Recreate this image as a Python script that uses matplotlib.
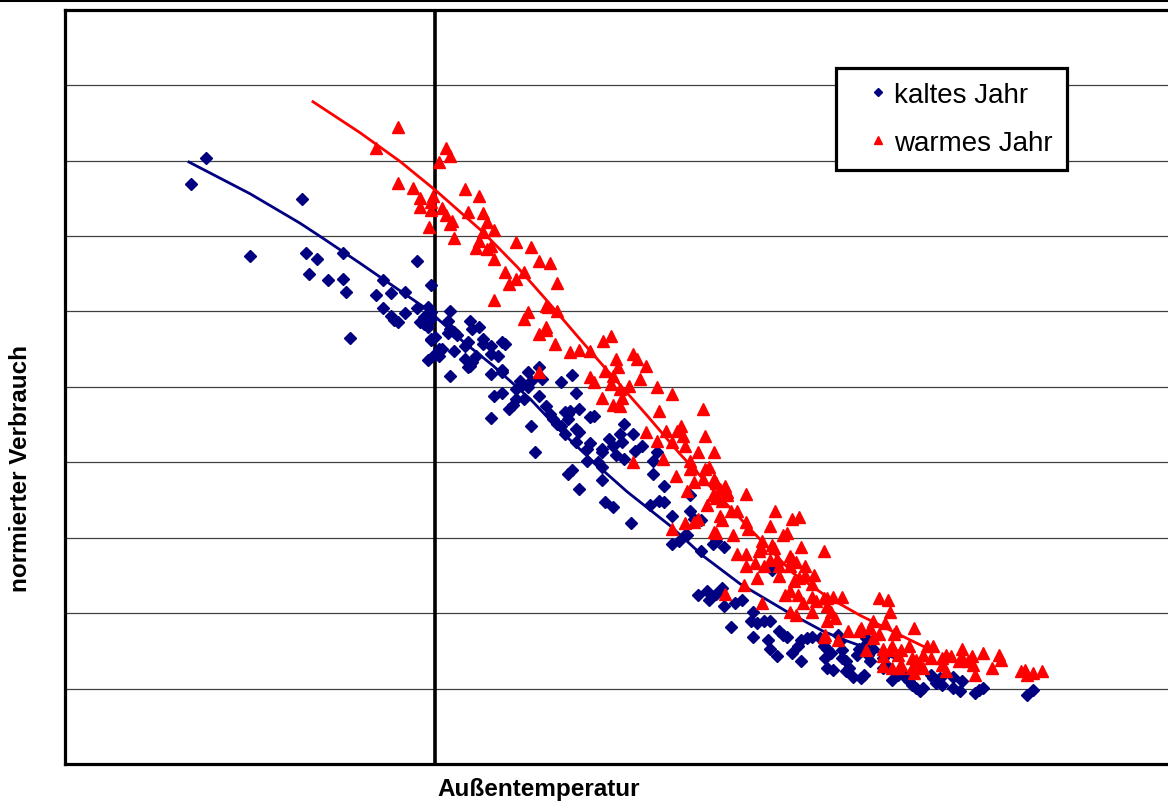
import matplotlib
matplotlib.use("Agg")
import matplotlib.pyplot as plt
from matplotlib.lines import Line2D

plt.rcParams['font.family'] = ['Liberation Sans', 'DejaVu Sans']

# kaltes Jahr: Außentemperatur [°C] / normierter Verbrauch
kalt_temp = [
    -6.2, -6.6, -3.6, -5.0, -3.5, -3.2, -2.5, -3.4, -2.9, -2.5, -2.4, -0.5, -2.3, -1.4, -1.6, -1.2,
    -0.8, -0.1, -1.4, -1.2, -1.1, -1.0, -0.8, -0.5, -0.2, -0.4, -0.3, -0.2, -0.1, -0.1, 0.0, -0.2,
    0.0, 0.2, 0.1, 0.4, 0.35, 0.4, 0.35, 0.6, 0.5, 0.9, 0.95, 1.0, 0.8, 0.95, 0.4, -0.3,
    -0.1, 0.5, -0.1, 0.1, 1.2, 0.8, 1.1, 1.0, 0.9, 1.3, 1.3, 1.5, 1.5, 1.7, 1.8, 1.9,
    1.5, 1.8, 1.8, 2.3, 2.35, 2.5, 2.6, 2.5, 2.2, 2.8, 2.9, 3.4, 3.7, 1.6, 1.8, 2.1,
    2.0, 2.2, 2.4, 2.8, 1.5, 2.6, 2.7, 3.0, 3.1, 3.2, 3.3, 3.5, 3.6, 3.65, 3.6, 3.8,
    3.9, 3.4, 3.5, 3.8, 3.9, 3.8, 4.2, 4.3, 4.1, 4.2, 4.5, 4.5, 4.1, 4.4, 4.5, 3.6,
    3.7, 3.9, 4.5, 4.6, 4.8, 4.7, 4.8, 5.0, 5.05, 5.1, 5.35, 5.4, 4.9, 5.1, 5.6, 5.9,
    6.0, 5.9, 6.2, 6.05, 6.2, 6.4, 5.8, 5.3, 6.9, 6.9, 7.0, 7.2, 6.8, 6.4, 6.6, 6.75,
    7.5, 7.6, 7.8, 7.2, 7.1, 7.35, 7.4, 7.6, 7.75, 7.8, 8.1, 8.3, 9.1, 8.0, 8.6, 8.55,
    8.7, 8.9, 9.05, 8.6, 9.0, 9.05, 9.25, 9.3, 9.4, 9.5, 9.65, 9.9, 9.8, 9.9, 10.05, 10.2,
    10.6, 10.75, 11.1, 11.3, 11.5, 11.6, 12.35, 12.5, 10.4, 10.5, 10.6, 10.7, 10.55, 10.9, 10.95, 11.0,
    11.0, 11.1, 11.2, 11.4, 11.45, 11.6, 11.65, 11.7, 11.75, 11.85, 12.1, 12.2, 12.1, 12.55, 12.7, 12.8,
    12.9, 13.0, 13.1, 13.2, 13.4, 13.45, 13.55, 13.7, 13.65, 14.0, 14.0, 14.2, 14.25, 14.6, 14.7, 14.8,
    16.0, 16.15,
]
kalt_verbrauch = [
    8.04, 7.69, 7.49, 6.73, 6.77, 6.69, 6.77, 6.49, 6.42, 6.43, 6.26, 6.67, 5.65, 6.42, 6.22, 6.24,
    6.26, 6.35, 6.05, 5.94, 5.89, 5.86, 5.98, 6.05, 6.06, 5.86, 5.83, 5.79, 5.90, 5.62, 5.66, 5.36,
    5.44, 5.50, 5.41, 6.01, 5.87, 5.77, 5.71, 5.69, 5.48, 5.60, 5.87, 5.77, 5.37, 5.28, 5.15, 5.93,
    5.99, 5.73, 5.63, 5.50, 5.79, 5.54, 5.41, 5.33, 5.26, 5.63, 5.57, 5.54, 5.44, 5.41, 5.60, 5.57,
    5.17, 5.22, 5.20, 5.08, 5.03, 5.20, 5.08, 5.00, 4.97, 5.26, 5.11, 5.07, 5.16, 4.88, 4.92, 4.76,
    4.71, 4.84, 4.84, 4.88, 4.59, 4.48, 4.14, 4.75, 4.64, 4.58, 4.51, 4.67, 4.64, 4.68, 4.58, 4.92,
    4.71, 4.48, 4.38, 4.44, 4.40, 4.27, 4.60, 4.62, 4.18, 4.25, 4.18, 4.14, 4.02, 4.01, 3.94, 3.85,
    3.90, 3.65, 3.76, 3.48, 3.41, 4.31, 4.22, 4.38, 4.27, 4.51, 4.38, 4.15, 4.09, 4.05, 4.21, 4.02,
    4.14, 3.84, 3.69, 3.49, 3.47, 3.29, 3.44, 3.19, 3.56, 3.35, 3.25, 3.23, 3.03, 2.92, 2.95, 3.03,
    2.92, 2.95, 2.88, 2.83, 2.24, 2.30, 2.17, 2.26, 2.33, 2.10, 2.13, 2.17, 2.57, 1.81, 2.02, 1.89,
    1.87, 1.89, 1.90, 1.69, 1.64, 1.53, 1.43, 1.76, 1.71, 1.69, 1.47, 1.36, 1.56, 1.64, 1.67, 1.69,
    1.27, 1.24, 1.23, 1.16, 1.14, 1.18, 1.11, 1.18, 1.67, 1.57, 1.53, 1.47, 1.40, 1.71, 1.63, 1.51,
    1.40, 1.36, 1.27, 1.44, 1.53, 1.56, 1.67, 1.44, 1.36, 1.53, 1.40, 1.31, 1.27, 1.20, 1.16, 1.10,
    1.05, 1.01, 0.97, 1.01, 1.18, 1.14, 1.07, 1.05, 1.14, 1.16, 1.01, 0.97, 1.10, 0.94, 0.98, 1.01,
    0.91, 0.98,
]

# warmes Jahr
warm_temp = [
    -1.0, -1.6, 0.3, 0.4, 0.1, -1.0, -0.6, -0.4, -0.4, -0.05, -0.1, -0.1, -0.15, 0.2, 0.3, 0.4,
    0.45, 0.5, 0.8, 1.2, 0.9, 1.3, 1.4, 1.3, 1.6, 1.2, 1.1, 1.4, 1.5, 1.6, 1.9, 2.2,
    2.0, 2.2, 2.4, 1.6, 2.6, 2.8, 3.1, 3.3, 3.0, 3.3, 2.5, 2.4, 3.0, 3.05, 2.8, 3.0,
    3.25, 3.65, 3.9, 4.2, 4.55, 4.75, 2.8, 4.2, 4.3, 4.6, 4.8, 4.9, 4.95, 4.75, 5.0, 4.5,
    4.8, 5.0, 5.05, 5.35, 5.45, 5.7, 5.55, 5.25, 6.0, 6.4, 6.05, 7.25, 5.7, 6.0, 6.25, 6.4,
    6.55, 6.65, 6.7, 6.75, 7.3, 5.35, 6.15, 6.5, 6.9, 6.95, 7.1, 7.3, 7.4, 7.55, 6.4, 6.8,
    7.0, 7.25, 7.55, 7.6, 7.7, 7.85, 7.9, 7.9, 7.6, 7.35, 7.75, 8.4, 8.0, 8.15, 7.7, 7.75,
    9.2, 9.65, 9.05, 9.4, 9.85, 7.0, 7.1, 6.75, 7.55, 8.05, 8.4, 8.45, 8.85, 8.8, 9.15, 8.15,
    8.4, 9.6, 6.9, 7.5, 9.5, 7.6, 9.1, 8.75, 9.9, 10.5, 8.65, 8.4, 8.9, 9.05, 9.25, 9.3,
    9.65, 9.75, 9.6, 10.0, 10.25, 10.2, 10.0, 9.85, 9.7, 9.6, 9.45, 9.8, 9.95, 10.2, 10.3, 10.6,
    10.75, 11.0, 8.7, 9.3, 8.35, 7.85, 8.85, 9.6, 9.75, 10.2, 10.6, 10.7, 10.6, 10.8, 10.55, 10.9,
    11.15, 11.45, 11.65, 11.75, 12.0, 12.25, 12.0, 12.3, 12.4, 12.3, 12.1, 12.1, 12.35, 12.5, 12.55, 10.5,
    10.5, 11.5, 11.85, 12.15, 12.45, 12.95, 11.85, 12.1, 12.35, 12.6, 12.8, 12.6, 12.9, 13.0, 13.1, 13.2,
    13.4, 13.3, 13.45, 12.9, 12.95, 13.2, 13.7, 13.7, 13.8, 13.95, 14.15, 14.25, 14.25, 14.4, 14.5, 14.55,
    14.6, 14.8, 15.05, 15.25, 15.3, 13.8, 15.85, 15.95, 16.0, 16.15, 16.4,
]
warm_verbrauch = [
    8.45, 8.16, 8.17, 8.06, 7.98, 7.70, 7.63, 7.51, 7.39, 7.53, 7.45, 7.34, 7.12, 7.37, 7.28, 7.16,
    7.20, 6.97, 7.62, 7.53, 7.32, 7.30, 7.18, 7.05, 7.08, 6.93, 6.84, 6.83, 6.87, 6.69, 6.52, 6.92,
    6.36, 6.43, 6.52, 6.15, 6.85, 6.67, 6.64, 6.38, 6.07, 6.01, 5.99, 5.90, 5.79, 6.06, 5.70, 5.75,
    5.57, 5.46, 5.49, 5.48, 5.61, 5.67, 5.20, 5.13, 5.07, 5.21, 5.15, 5.37, 5.26, 5.04, 4.97, 4.85,
    4.76, 4.75, 4.85, 5.44, 5.37, 5.28, 5.11, 5.01, 5.00, 4.91, 4.68, 4.70, 4.40, 4.28, 4.42, 4.27,
    4.42, 4.48, 4.35, 4.22, 4.35, 4.01, 4.05, 3.82, 4.02, 3.94, 4.13, 3.91, 3.94, 4.13, 3.12, 3.62,
    3.74, 3.78, 3.78, 3.72, 3.65, 3.68, 3.61, 3.56, 3.52, 3.43, 3.49, 3.58, 3.36, 3.35, 3.29, 3.23,
    3.35, 3.25, 3.15, 3.03, 3.28, 3.21, 3.25, 3.19, 3.08, 3.03, 3.21, 3.12, 2.95, 2.86, 2.86, 2.79,
    2.79, 2.76, 3.91, 3.56, 3.06, 3.06, 2.90, 2.83, 2.88, 2.82, 2.66, 2.62, 2.62, 2.70, 2.72, 2.62,
    2.72, 2.68, 2.63, 2.63, 2.50, 2.39, 2.50, 2.46, 2.42, 2.29, 2.24, 2.24, 2.13, 2.22, 2.16, 2.20,
    2.22, 2.21, 2.47, 2.49, 2.37, 2.25, 2.13, 2.02, 1.97, 2.02, 2.10, 2.02, 1.90, 1.93, 1.71, 1.64,
    1.76, 1.77, 1.51, 1.80, 2.20, 2.17, 1.73, 2.02, 1.73, 1.51, 1.43, 1.30, 1.27, 1.44, 1.27, 2.20,
    1.69, 1.80, 1.90, 1.87, 1.76, 1.80, 1.67, 1.53, 1.57, 1.51, 1.57, 1.31, 1.40, 1.38, 1.31, 1.44,
    1.40, 1.56, 1.57, 1.27, 1.20, 1.27, 1.40, 1.31, 1.44, 1.43, 1.36, 1.53, 1.40, 1.36, 1.43, 1.31,
    1.18, 1.47, 1.27, 1.44, 1.38, 1.23, 1.23, 1.24, 1.18, 1.20, 1.23,
]

# Trendlinien
kalt_trend_temp = [-6.65, -5.0, -3.65, -3.03, -2.03, -1.41, -0.22, 0.76, 1.57, 2.57, 3.38,
                   4.27, 5.19, 6.35, 7.24, 8.24, 9.51, 10.49, 11.14, 12.57]
kalt_trend_verbrauch = [7.98, 7.56, 7.17, 6.97, 6.64, 6.43, 6.03, 5.60, 5.28, 4.84, 4.42,
                        4.01, 3.61, 3.16, 2.76, 2.39, 2.02, 1.76, 1.63, 1.38]
warm_trend_temp = [-3.30, -2.03, -0.95, 0.05, 1.30, 2.22, 3.03, 3.92, 4.65, 5.73,
                   6.62, 7.89, 8.78, 9.68, 10.59, 11.49, 12.57, 13.32]
warm_trend_verbrauch = [8.78, 8.37, 7.99, 7.59, 7.05, 6.59, 6.14, 5.63, 5.22, 4.62,
                        4.11, 3.44, 2.98, 2.53, 2.22, 1.97, 1.71, 1.53]

BLAU = '#000080'
ROT = '#FF0000'

fig = plt.figure(figsize=(11.68, 8.03), dpi=100)
ax = fig.add_axes([0.0557, 0.0473, 0.9443, 0.9394])
ax.set_xlim(-10, 19.81)
ax.set_ylim(0, 10)
ax.set_xticks([])
ax.set_yticks([])
for side in ['left', 'top', 'bottom']:
    ax.spines[side].set_linewidth(2.3)
ax.spines['right'].set_visible(False)

for y in range(1, 10):
    ax.axhline(y, color='#404040', lw=0.9, zorder=1)
ax.axvline(0, color='black', lw=2.6, zorder=1.5)

h_kalt, = ax.plot(kalt_temp, kalt_verbrauch, linestyle='none', marker='D', ms=6.2,
                  color=BLAU, mec=BLAU, zorder=3, label='kaltes Jahr')
ax.plot(kalt_trend_temp, kalt_trend_verbrauch, color=BLAU, lw=2.0, zorder=4,
        solid_joinstyle='round')
h_warm, = ax.plot(warm_temp, warm_verbrauch, linestyle='none', marker='^', ms=8.0,
                  color=ROT, mec=ROT, zorder=5, label='warmes Jahr')
ax.plot(warm_trend_temp, warm_trend_verbrauch, color=ROT, lw=2.0, zorder=6,
        solid_joinstyle='round')

leg = ax.legend(handles=[h_kalt, h_warm], loc='upper left',
                bbox_to_anchor=(836 / 1168, 1 - 69 / 803), bbox_transform=fig.transFigure,
                fontsize=20, fancybox=False, edgecolor='black', framealpha=1,
                borderpad=0.5, labelspacing=0.8, handlelength=2.0, handletextpad=-0.4,
                markerscale=0.68, borderaxespad=0)
leg.get_frame().set_linewidth(2.3)

fig.text(437 / 1168, 1 - 790 / 803, 'Außentemperatur', fontsize=17.5, fontweight='bold',
         ha='left', va='center')
fig.text(21 / 1168, 1 - 468 / 803, 'normierter Verbrauch', fontsize=17.5, fontweight='bold',
         rotation=90, ha='center', va='center')

# Linie am oberen Rand
fig.add_artist(Line2D([0, 1], [1 - 1.2 / 803] * 2, transform=fig.transFigure,
                      color='black', lw=2.2))

fig.savefig('out.png', dpi=100)
